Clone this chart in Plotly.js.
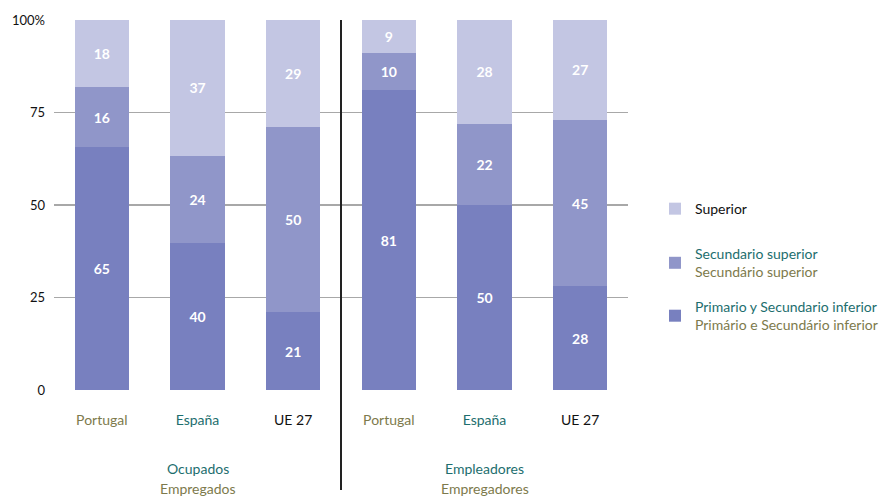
<!DOCTYPE html>
<html><head><meta charset="utf-8">
<script src="https://cdn.plot.ly/plotly-3.0.1.min.js"></script>
<style>html,body{margin:0;padding:0;background:#fff}#chart{width:890px;height:496px}</style>
</head><body><div id="chart"></div>
<script>
const categories = ["Ocupados|Portugal","Ocupados|España","Ocupados|UE 27","Empleadores|Portugal","Empleadores|España","Empleadores|UE 27"];
const tickLabels = ["Portugal","España","UE 27","Portugal","España","UE 27"];
const tickColors = ["#7d7a4c","#1d6e6e","#111111","#7d7a4c","#1d6e6e","#111111"];
const primario = [65, 40, 21, 81, 50, 28];
const secundario = [16, 24, 50, 10, 22, 45];
const superior = [18, 37, 29, 9, 28, 27];
const yTicks = [0, 25, 50, 75, 100];
const yTickText = ["0", "25", "50", "75", "100%"];

const teal = "#1d6e6e", olive = "#7d7a4c";
const FONT = "Lato, 'Open Sans', sans-serif";
const colors = {prim: "#7880bf", sec: "#9096c9", sup: "#c3c6e3"};

function trace(vals, name, color, legendId) {
  return {
    type: "bar", x: categories.map((c, i) => i), y: vals, name: name,
    text: vals.map(String), textposition: "inside", insidetextanchor: "middle",
    textangle: 0, constraintext: "none",
    textfont: {color: "#ffffff", size: 14, family: FONT, weight: "bold"},
    marker: {color: color, line: {width: 0}}, width: 0.565,
    legend: legendId, hoverinfo: "none"
  };
}

const data = [
  trace(primario, "<span style='color:" + teal + "'>Primario y Secundario inferior</span><br><span style='color:" + olive + "'>Primário e Secundário inferior</span>", colors.prim, "legend3"),
  trace(secundario, "<span style='color:" + teal + "'>Secundario superior</span><br><span style='color:" + olive + "'>Secundário superior</span>", colors.sec, "legend2"),
  trace(superior, "Superior", colors.sup, "legend")
];

function leg(y) {
  return {x: 1.047, xanchor: "left", y: y, yanchor: "middle",
    font: {size: 14, family: FONT, color: "#111"}, itemwidth: 30, bgcolor: "rgba(0,0,0,0)"};
}

const layout = {
  width: 890, height: 496,
  margin: {l: 54, r: 262, t: 20, b: 106, autoexpand: false},
  paper_bgcolor: "#fff", plot_bgcolor: "#fff",
  barmode: "stack", barnorm: "percent",
  font: {family: FONT, size: 14, color: "#111"},
  showlegend: true,
  legend: leg(0.489),
  legend2: leg(0.343),
  legend3: leg(0.2),
  xaxis: {range: [-0.5, 5.5], tickvals: [0,1,2,3,4,5],
    ticktext: tickLabels.map((t, i) => "<span style='color:" + tickColors[i] + "'>" + t + "</span>"),
    showgrid: false, zeroline: false, showline: false, ticks: "",
    ticklabelstandoff: 20, tickfont: {size: 14, family: FONT}, fixedrange: true},
  yaxis: {range: [0, 100], tickvals: yTicks, ticktext: yTickText,
    showgrid: true, gridcolor: "#a8a8a8", gridwidth: 1.5, zeroline: false,
    showline: false, ticks: "", ticklabelstandoff: 8,
    tickfont: {size: 13, family: FONT, color: "#111"}, fixedrange: true},
  shapes: [
    {type: "line", xref: "x", yref: "paper", x0: 2.5, x1: 2.5, y0: 1, y1: -0.27,
     line: {color: "#222", width: 2}}
  ],
  annotations: [
    {x: 1, y: -0.213, xref: "x", yref: "paper", text: "Ocupados", showarrow: false, font: {color: teal, size: 14}, yanchor: "middle"},
    {x: 1, y: -0.265, xref: "x", yref: "paper", text: "Empregados", showarrow: false, font: {color: olive, size: 14}, yanchor: "middle"},
    {x: 4, y: -0.213, xref: "x", yref: "paper", text: "Empleadores", showarrow: false, font: {color: teal, size: 14}, yanchor: "middle"},
    {x: 4, y: -0.265, xref: "x", yref: "paper", text: "Empregadores", showarrow: false, font: {color: olive, size: 14}, yanchor: "middle"}
  ]
};

Plotly.newPlot("chart", data, layout, {displayModeBar: false, staticPlot: true});
</script></body></html>
